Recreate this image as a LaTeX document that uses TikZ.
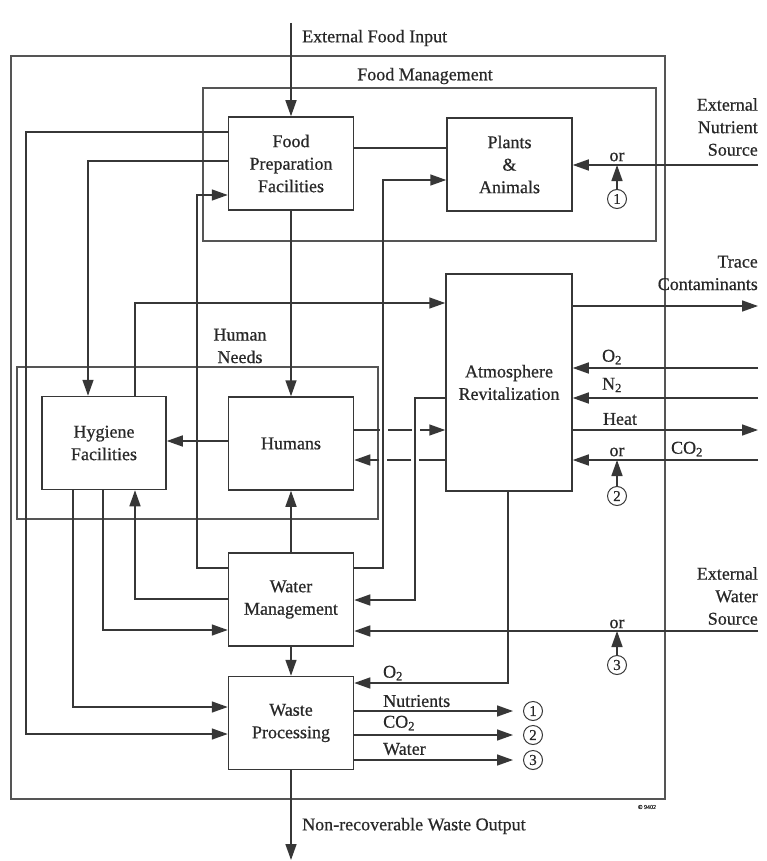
\documentclass[tikz,border=0pt]{standalone}
\usepackage{fontspec}
\setmainfont{Liberation Serif}[FakeBold=0.6]
\usetikzlibrary{arrows.meta}
\definecolor{ln}{RGB}{55,55,55}
\definecolor{tx}{RGB}{40,40,40}
\begin{document}
\begin{tikzpicture}[x=1pt,y=-1pt,
  box/.style={draw=ln, line width=1.5pt, minimum width=125pt, minimum height=93pt, inner sep=0pt, align=center, font=\fontsize{18}{22.5}\selectfont, text=tx},
  cont/.style={draw=ln!85, line width=1.1pt},
  conn/.style={draw=ln, line width=1.5pt},
  arr/.style={conn, -{Triangle[length=16pt,width=11pt]}},
  lbl/.style={font=\fontsize{18}{22.5}\selectfont, text=tx, inner sep=0pt, align=center},
  num/.style={circle, draw=ln, line width=1pt, minimum size=19pt, inner sep=0pt, font=\fontsize{15}{15}\selectfont, text=tx},
]
\useasboundingbox (0,0) rectangle (766,861);
\fill[white] (0,0) rectangle (766,861);

% containers
\draw[cont] (11,56) rectangle (665,799);
\draw[cont] (203,88) rectangle (656,241);
\draw[cont] (17,367) rectangle (378,519);

% boxes
\node[box] (foodprep) at (291,163.5) {Food\\Preparation\\Facilities};
\node[box] (plants) at (509.5,164.5) {Plants\\\&\\Animals};
\node[box, minimum width=124pt] (hygiene) at (104,443) {Hygiene\\Facilities};
\node[box] (humans) at (291,443.5) {Humans};
\node[box, minimum width=126pt, minimum height=217pt] (atmos) at (509,382.5) {Atmosphere\\Revitalization};
\node[box] (water) at (291,599.5) {Water\\Management};
\node[box] (waste) at (291,723) {Waste\\Processing};

% external food input
\coordinate (efi) at (291,23);
\draw[arr] (efi) -- (efi |- foodprep.north);
\node[lbl, anchor=west] (efitxt) at (302,38) {External Food Input};
\node[lbl] (fmtxt) at (425,76) {Food Management};

% food prep connections
\draw[arr] (foodprep.west |- 0,132) -- (26,132) -- (26,734) -- (waste.west |- 0,734);
\draw[arr] (foodprep.west |- 0,161) -- (88,161) -- (hygiene.north -| 88,0);
\draw[arr] (water.west |- 0,568) -- (197,568) -- (197,195) -- (foodprep.west |- 0,195);
\draw[conn] (foodprep.east |- 0,148) -- (plants.west |- 0,148);
\draw[arr] (water.east |- 0,568) -- (383,568) -- (383,180) -- (plants.west |- 0,180);
\draw[arr] (foodprep.south) -- (humans.north);

% external nutrient source
\coordinate (ens) at (758,165);
\draw[arr] (ens) -- (plants.east |- ens);
\node[lbl] (or1) at (617,157) {or};
\node[num] (c1a) at (617,199) {1};
\draw[arr] (c1a) -- (c1a |- ens);
\node[lbl, anchor=east, align=right] (enstxt) at (758,127) {External\\Nutrient\\Source};

% hygiene / humans / atmosphere
\draw[arr] (hygiene.north -| 135,0) -- (135,303) -- (atmos.west |- 0,303);
\draw[arr] (humans.west |- 0,441) -- (hygiene.east |- 0,441);
\draw[arr, dash pattern=on 26pt off 8pt on 24pt off 8pt on 60pt] (humans.east |- 0,430) -- (atmos.west |- 0,430);
\draw[arr, dash pattern=on 26pt off 8pt on 24pt off 8pt on 60pt] (atmos.west |- 0,460) -- (humans.east |- 0,460);
\draw[arr] (atmos.west |- 0,398) -- (415,398) -- (415,600) -- (water.east |- 0,600);
\node[lbl] (hntxt) at (240,346) {Human\\Needs};

% atmosphere right side
\coordinate (tc) at (758,306);
\coordinate (o2in) at (758,368);
\coordinate (n2in) at (758,398);
\coordinate (heat) at (758,430);
\coordinate (co2in) at (758,460);
\draw[arr] (atmos.east |- tc) -- (tc);
\draw[arr] (o2in) -- (atmos.east |- o2in);
\draw[arr] (n2in) -- (atmos.east |- n2in);
\draw[arr] (atmos.east |- heat) -- (heat);
\draw[arr] (co2in) -- (atmos.east |- co2in);
\node[lbl, anchor=east, align=right] (tctxt) at (758,273) {Trace\\Contaminants};
\node[lbl] (o2txt) at (612,357) {O\textsubscript{2}};
\node[lbl] (n2txt) at (612,385) {N\textsubscript{2}};
\node[lbl] (heattxt) at (620,419) {Heat};
\node[lbl] (or2) at (617,452) {or};
\node[lbl] (co2txt) at (687,449) {CO\textsubscript{2}};
\node[num] (c2a) at (617,496) {2};
\draw[arr] (c2a) -- (c2a |- co2in);

% atmosphere to waste
\draw[arr] (atmos.south -| 508,0) -- (508,683) -- (waste.east |- 0,683);
\node[lbl] (o2wtxt) at (393,673) {O\textsubscript{2}};

% water management
\draw[arr] (water.north) -- (humans.south);
\draw[arr] (water.south) -- (waste.north);
\draw[arr] (hygiene.south -| 73,0) -- (73,707) -- (waste.west |- 0,707);
\draw[arr] (hygiene.south -| 103,0) -- (103,630) -- (water.west |- 0,630);
\draw[arr] (water.west |- 0,599) -- (135,599) -- (hygiene.south -| 135,0);

% external water source
\coordinate (ews) at (758,631);
\draw[arr] (ews) -- (water.east |- ews);
\node[lbl] (or3) at (617,624) {or};
\node[num] (c3a) at (617,665) {3};
\draw[arr] (c3a) -- (c3a |- ews);
\node[lbl, anchor=east, align=right] (ewstxt) at (758,596) {External\\Water\\Source};

% waste outputs
\node[num] (c1b) at (533,711) {1};
\node[num] (c2b) at (533,735) {2};
\node[num] (c3b) at (533,760) {3};
\draw[arr, shorten >=10pt] (waste.east |- c1b) -- (c1b.west);
\draw[arr, shorten >=10pt] (waste.east |- c2b) -- (c2b.west);
\draw[arr, shorten >=10pt] (waste.east |- c3b) -- (c3b.west);
\node[lbl, anchor=west] (nuttxt) at (383,701) {Nutrients};
\node[lbl, anchor=west] (co2wtxt) at (383,723) {CO\textsubscript{2}};
\node[lbl, anchor=west] (wattxt) at (383,749) {Water};

% waste output
\coordinate (nrw) at (291,860);
\draw[arr] (waste.south) -- (waste.south |- nrw);
\node[lbl, anchor=west] (nrwtxt) at (302,826) {Non-recoverable Waste Output};

\node[font=\fontsize{6}{6}\selectfont, text=tx] (copy) at (647,807) {© 9402};
\end{tikzpicture}
\end{document}
